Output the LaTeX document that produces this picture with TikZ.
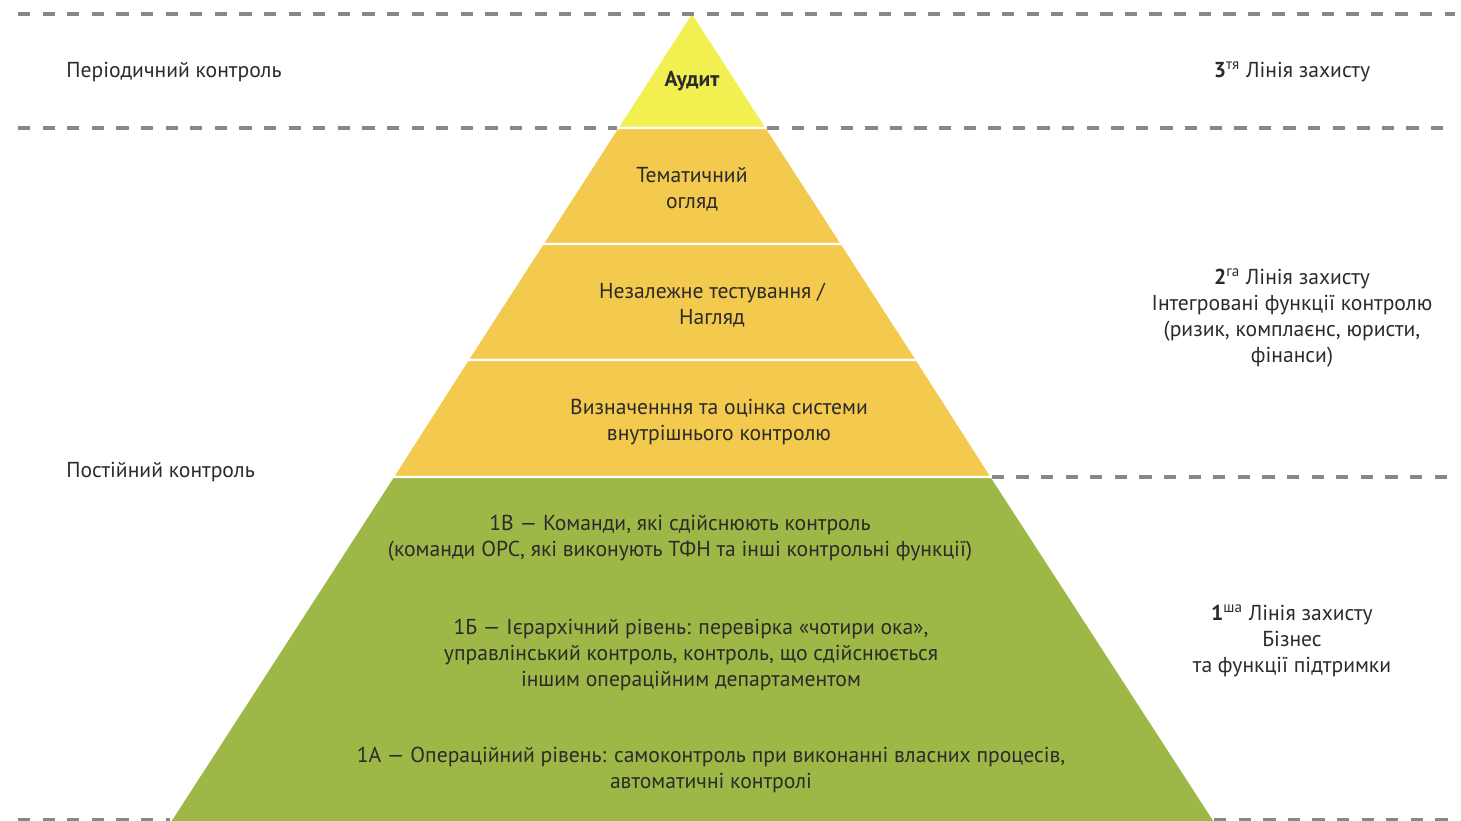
\documentclass[tikz,border=0pt]{standalone}
\usepackage{fontspec}
\setmainfont{PT Sans}
\usetikzlibrary{positioning}
\definecolor{audit}{HTML}{F2F050}
\definecolor{second}{HTML}{F3C94E}
\definecolor{first}{HTML}{9DB846}
\definecolor{dashgray}{HTML}{888888}
\definecolor{txt}{HTML}{2B2B2B}

\begin{document}
\begin{tikzpicture}[x=0.02cm, y=-0.02cm,
        layer/.style = {draw=white, line width=1.2pt},
        sep/.style = {dashgray, line width=2pt, dash pattern=on 7pt off 7pt},
        label/.style = {text=txt, font=\fontsize{12.3}{14.8}\selectfont, align=center, inner sep=0pt},
        side/.style = {label, anchor=west, align=left}
        ]
        \useasboundingbox (0,0) rectangle (1461,821);

        % pyramid corners
        \coordinate (apex) at (692,12);
        \coordinate (l1) at (617.2,128);  \coordinate (r1) at (766.9,128);
        \coordinate (l2) at (542.4,244);  \coordinate (r2) at (842.0,244);
        \coordinate (l3) at (467.5,360);  \coordinate (r3) at (917.0,360);
        \coordinate (l4) at (392.7,477);  \coordinate (r4) at (991.8,477);
        \coordinate (l5) at (158.0,840);  \coordinate (r5) at (1227.0,840);

        \filldraw[layer, fill=audit]  (apex) -- (r1) -- (l1) -- cycle;
        \filldraw[layer, fill=second] (l1) -- (r1) -- (r2) -- (l2) -- cycle;
        \filldraw[layer, fill=second] (l2) -- (r2) -- (r3) -- (l3) -- cycle;
        \filldraw[layer, fill=second] (l3) -- (r3) -- (r4) -- (l4) -- cycle;
        \filldraw[layer, fill=first]  (l4) -- (r4) -- (r5) -- (l5) -- cycle;

        % separators
        \draw[sep] (18,14) -- (1455,14);
        \draw[sep] (18,128) -- (l1);
        \draw[sep] (r1) -- (1455,128);
        \draw[sep] (r4) -- (1455,477);
        \draw[sep] (18,820) -- (170,820);
        \draw[sep] (1214,820) -- (1455,820);

        % pyramid texts
        \node[label, font=\fontsize{12.3}{14.8}\selectfont\bfseries] (audit) at (692,81) {Аудит};
        \node[label] (review) at (692,189) {Тематичний\\огляд};
        \node[label] (testing) at (712,305) {Незалежне тестування /\\Нагляд};
        \node[label] (system) at (719,422) {Визначенння та оцінка системи\\внутрішнього контролю};
        \node[label] (teams) at (680,538) {1В — Команди, які сдійснюють контроль\\(команди ОРС, які виконують ТФН та інші контрольні функції)};
        \node[label] (hier) at (691,655) {1Б — Ієрархічний рівень: перевірка «чотири ока»,\\управлінський контроль, контроль, що сдійснюється\\іншим операційним департаментом};
        \node[label] (oper) at (711,770) {1А — Операційний рівень: самоконтроль при виконанні власних процесів,\\автоматичні контролі};

        % left texts
        \node[side] (periodic) at (66,72) {Періодичний контроль};
        \node[side] (permanent) at (66,472) {Постійний контроль};

        % right texts
        \node[label] (third) at (1292,72) {\textbf{3}\textsuperscript{тя} Лінія захисту};
        \node[label] (second) at (1292,318) {\textbf{2}\textsuperscript{га} Лінія захисту\\Інтегровані функції контролю\\(ризик, комплаєнс, юристи,\\фінанси)};
        \node[label] (first) at (1292,641) {\textbf{1}\textsuperscript{ша} Лінія захисту\\Бізнес\\та функції підтримки};
\end{tikzpicture}
\end{document}
